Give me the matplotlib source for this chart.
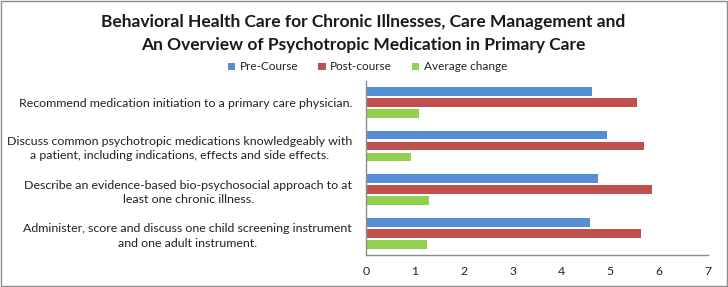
import matplotlib
matplotlib.use("Agg")
import matplotlib.pyplot as plt
import numpy as np
from matplotlib.patches import Rectangle

categories = [
    "Recommend medication initiation to a primary care physician.",
    "Discuss common psychotropic medications knowledgeably with\na patient, including indications, effects and side effects.",
    "Describe an evidence-based bio-psychosocial approach to at\nleast one chronic illness.",
    "Administer, score and discuss one child screening instrument\nand one adult instrument.",
]
series_names = ["Pre-Course", "Post-course", "Average change"]
pre_course = [4.63, 4.94, 4.74, 4.59]
post_course = [5.55, 5.70, 5.86, 5.62]
avg_change = [1.09, 0.93, 1.28, 1.24]
x_ticks = [0, 1, 2, 3, 4, 5, 6, 7]

colors = ["#558ED5", "#C0504D", "#92D050"]
FONT = "Lato"

fig = plt.figure(figsize=(7.28, 2.87), dpi=100)
fig.patches.append(Rectangle((0.001, 0.002), 0.997, 0.995, transform=fig.transFigure,
                             fill=False, edgecolor="#8c8c8c", linewidth=1.0))

ax = fig.add_axes([0.5027, 0.1108, 0.4698, 0.6087])
y = np.arange(len(categories))
h = 0.205
off = 0.252
for i, (vals, name, c) in enumerate(zip([pre_course, post_course, avg_change], series_names, colors)):
    ax.barh(y + (i - 1) * off, vals, height=h, color=c, label=name)

ax.set_xlim(0, 7)
ax.set_ylim(len(categories) - 0.5, -0.5)
ax.set_xticks(x_ticks)
ax.set_xticklabels([str(t) for t in x_ticks], fontsize=8.8, family=FONT, color="#222222")
ax.tick_params(axis="x", length=0, pad=8)
ax.set_yticks(y)
ax.set_yticklabels(categories, fontsize=8.9, family=FONT, color="#222222", multialignment="center",
                   linespacing=1.35)
ax.tick_params(axis="y", length=0, pad=10)
for s in ["top", "right"]:
    ax.spines[s].set_visible(False)
for s in ["left", "bottom"]:
    ax.spines[s].set_color("#8c8c8c")
    ax.spines[s].set_linewidth(1.0)

fig.text(0.4986, 1 - 22 / 287, "Behavioral Health Care for Chronic Illnesses, Care Management and",
         ha="center", va="center", fontsize=12.5, fontweight="bold", family=FONT, color="#1a1a1a")
fig.text(0.4986, 1 - 45 / 287, "An Overview of Psychotropic Medication in Primary Care",
         ha="center", va="center", fontsize=12.5, fontweight="bold", family=FONT, color="#1a1a1a")

leg = fig.legend(loc="center", bbox_to_anchor=(0.505, 1 - 67 / 287), ncol=3, frameon=False,
                 prop={"family": FONT, "size": 8.5}, handlelength=0.6, handleheight=0.6,
                 handletextpad=0.4, columnspacing=1.7)
for t in leg.get_texts():
    t.set_color("#222222")

fig.savefig("out.png", dpi=100)
